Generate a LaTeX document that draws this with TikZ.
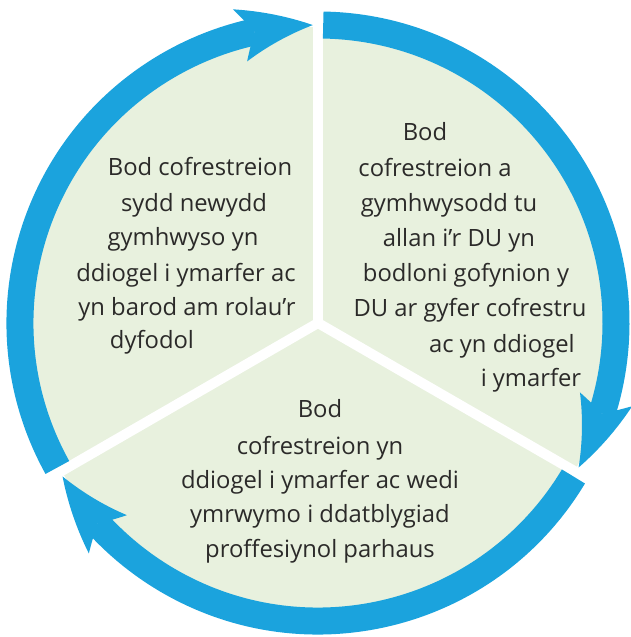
\documentclass[tikz,border=0pt]{standalone}
\usepackage{fontspec}
\setmainfont{Open Sans}
\usetikzlibrary{arrows.meta}
\usetikzlibrary{bending}
\definecolor{ringblue}{HTML}{1BA3DD}
\definecolor{piegreen}{HTML}{E8F1DE}
\definecolor{txtgrey}{HTML}{2B2A29}

\begin{document}
\begin{tikzpicture}[x=1pt,y=1pt,
  ring/.style={draw=ringblue,line width=27pt,-{Stealth[length=74pt,width=54pt,inset=15pt,line width=0pt,bend]}},
  gap/.style={draw=white,line width=10pt},
  txt/.style={anchor=base,inner sep=0pt,text=txtgrey,font=\fontsize{23.8}{28}\selectfont}]
\useasboundingbox (-318,-314) rectangle (312,323);
\fill[piegreen] (0,0) circle (296);
\coordinate (o) at (0,0);
\foreach \a/\n in {90/t,210/l,330/r} \coordinate (g\n) at (\a:320);
\foreach \n in {t,l,r} \path[gap] (o) -- (g\n);
\coordinate (s1) at (89:298);
\coordinate (s2) at (-31:298);
\coordinate (s3) at (-151:298);
\draw[ring] (s1) arc[start angle=89,end angle=-29,radius=298];
\draw[ring] (s2) arc[start angle=-31,end angle=-149,radius=298];
\draw[ring] (s3) arc[start angle=-151,end angle=-269,radius=298];
\foreach \x/\y/\t [count=\i] in {-118/147/Bod cofrestreion,-124/111/sydd newydd,
  -135/77/gymhwyso yn,-132/41/ddiogel i ymarfer ac,-131/7/yn barod am rolau’r,-166/-26/dyfodol}
  \node[txt] (left\i) at (\x,\y) {\t};
\foreach \x/\y/\t [count=\i] in {107/182/Bod,117/146/cofrestreion a,131/111/gymhwysodd tu,
  141/76/allan i’r DU yn,148/41/bodloni gofynion y,152/6/DU ar gyfer cofrestru,
  184/-29/ac yn ddiogel,213/-63/i ymarfer}
  \node[txt] (right\i) at (\x,\y) {\t};
\foreach \y/\t [count=\i] in {-94/Bod,-131/cofrestreion yn,-165/ddiogel i ymarfer ac wedi,
  -199/ymrwymo i ddatblygiad,-234/proffesiynol parhaus}
  \node[txt] (low\i) at (2,\y) {\t};
\end{tikzpicture}
\end{document}
